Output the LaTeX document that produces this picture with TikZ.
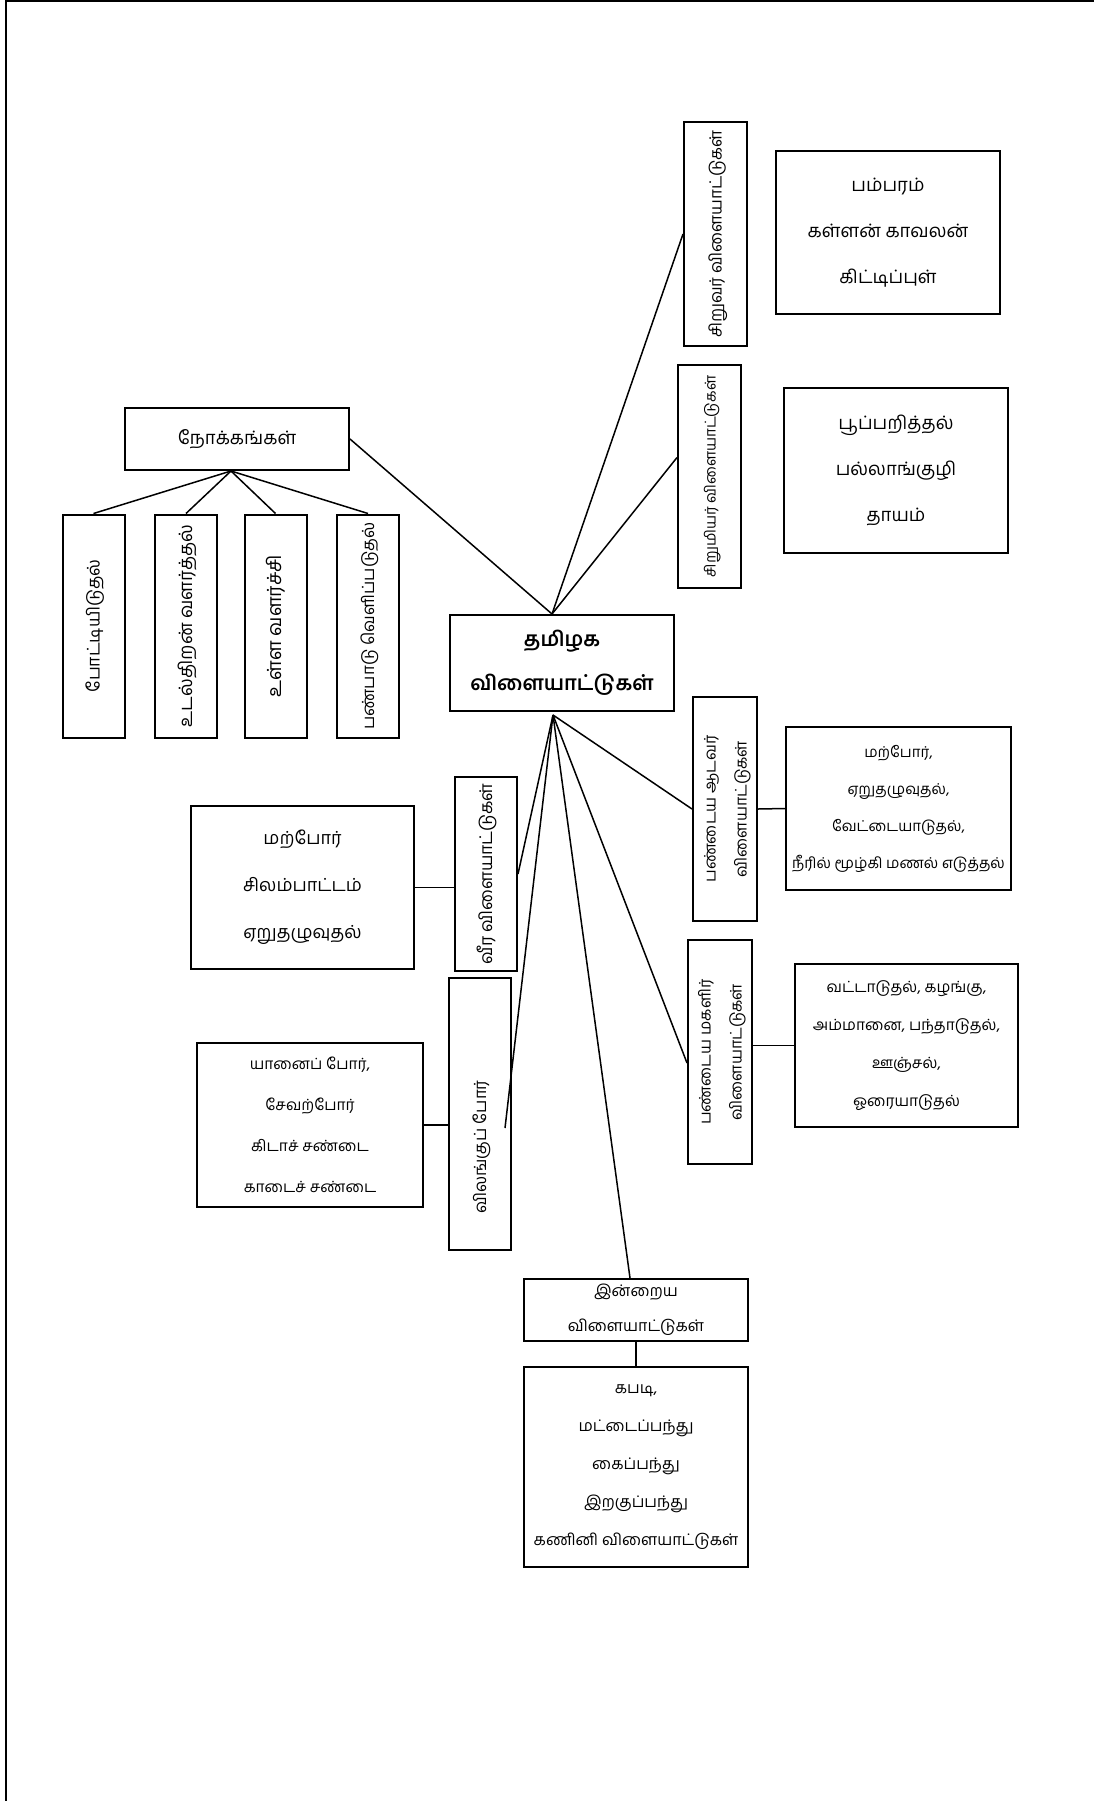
\documentclass[tikz,border=0pt]{standalone}
\usepackage{fontspec}
\setmainfont[Script=Tamil]{Hind Madurai}
\usetikzlibrary{positioning}
\newcommand*{\vtext}[1]{\rotatebox{90}{\begin{tabular}{@{}c@{}}#1\end{tabular}}}
\tikzstyle{box} = [draw, rectangle, line width=2pt, inner sep=0pt, align=center, font=\fontsize{18.5}{46}\selectfont]
\tikzstyle{listbox} = [box, minimum width=224pt, minimum height=163pt]
\tikzstyle{upbox} = [box, minimum width=63pt, minimum height=224pt, font=\fontsize{16.8}{31}\selectfont]
\tikzstyle{twoline} = [font=\fontsize{16}{31}\selectfont]
\tikzstyle{tight} = [font=\fontsize{15}{37}\selectfont]
\tikzstyle{link} = [line width=1.5pt]
\tikzstyle{frame} = [line width=2pt]

\begin{document}
\begin{tikzpicture}[x=1pt, y=-1pt]
    \useasboundingbox (0,0) rectangle (1094,1801);
    \draw [frame] (6,1801) -- (6,1) -- (1094,1);

    \node (centre) [box, minimum width=224pt, minimum height=96pt, font=\bfseries\fontsize{20.5}{44}\selectfont] at (562,663) {தமிழக\\விளையாட்டுகள்};
    \coordinate (hub top) at ([xshift=-10pt]centre.north);
    \coordinate (hub bottom) at ([xshift=-9pt, yshift=-3pt]centre.south);

    % Children.
    \node (boys) [upbox] at (715.5,234) {\vtext{சிறுவர் விளையாட்டுகள்}};
    \node (boys list) [listbox] at (888,232.5) {பம்பரம்\\கள்ளன் காவலன்\\கிட்டிப்புள்};
    \node (girls) [upbox, minimum height=223pt, font=\fontsize{15}{31}\selectfont] at (709.5,476.5) {\vtext{சிறுமியர் விளையாட்டுகள்}};
    \node (girls list) [listbox, minimum height=165pt] at (896,470.5) {பூப்பறித்தல்\\பல்லாங்குழி\\தாயம்};

    % Aims.
    \node (aims) [box, minimum width=224pt, minimum height=62pt] at (237,439) {நோக்கங்கள்};
    \foreach \i/\x/\s/\txt in {1/93.5/17.5/போட்டியிடுதல், 2/186/18.5/உடல்திறன் வளர்த்தல், 3/275.5/19.5/உள்ள வளர்ச்சி, 4/368/16.8/பண்பாடு வெளிப்படுதல்} {%
        \node (aim \i) [upbox, minimum width=62pt, minimum height=223pt, font=\fontsize{\s}{31}\selectfont] at (\x,626) {\vtext{\txt}};
        \draw [link] ([xshift=-6pt]aims.south) -- (aim \i.north);
    }

    % Old games.
    \node (veera) [upbox, minimum width=62pt, minimum height=194pt, font=\fontsize{17.5}{31}\selectfont] at (486,874) {\vtext{வீர விளையாட்டுகள்}};
    \node (veera list) [listbox, minimum width=223pt, font=\fontsize{18}{47}\selectfont] at (302.5,887.5) {மற்போர்\\சிலம்பாட்டம்\\ஏறுதழுவுதல்};
    \node (animals) [upbox, minimum width=62pt, minimum height=272pt] at (480,1114) {\vtext{விலங்குப் போர்\hspace*{66pt}}};
    \node (beasts) [listbox, minimum width=226pt, minimum height=164pt, font=\fontsize{15.5}{41}\selectfont] at (310,1125) {யானைப் போர்,\\சேவற்போர்\\கிடாச் சண்டை\\காடைச் சண்டை};
    \coordinate (animals end) at ([xshift=25pt, yshift=-14pt]animals.center);
    \node (men) [upbox, twoline, minimum width=64pt] at (725,809) {\vtext{பண்டைய ஆடவர்\\விளையாட்டுகள்}};
    \node (men list) [listbox, tight, minimum width=225pt] at (898.5,808.5) {மற்போர்,\\ஏறுதழுவுதல்,\\வேட்டையாடுதல்,\\நீரில் மூழ்கி மணல் எடுத்தல்};
    \node (women) [upbox, twoline, minimum width=64pt] at (720,1052) {\vtext{பண்டைய மகளிர்\\விளையாட்டுகள்}};
    \node (women list) [listbox, tight, minimum width=223pt, font=\fontsize{15.5}{38}\selectfont] at (906.5,1045.5) {வட்டாடுதல், கழங்கு,\\அம்மானை, பந்தாடுதல்,\\ஊஞ்சல்,\\ஓரையாடுதல்};

    % Today.
    \node (today) [box, minimum width=224pt, minimum height=62pt, font=\fontsize{16}{35}\selectfont] at (636,1310) {இன்றைய\\விளையாட்டுகள்};
    \node (today list) [box, minimum width=224pt, minimum height=200pt, below=24pt of today, font=\fontsize{16}{38}\selectfont] {கபடி,\\மட்டைப்பந்து\\கைப்பந்து\\இறகுப்பந்து\\கணினி விளையாட்டுகள்};

    % Links.
    \draw [link] (hub top) -- (boys.west);
    \draw [link] (hub top) -- ([yshift=19pt]girls.west);
    \draw [link] (hub top) -- (aims.east);
    \draw [link] (hub bottom) -- (men.west);
    \draw [link] (hub bottom) -- ([yshift=-11pt]women.west);
    \draw [link] (hub bottom) -- (veera.east);
    \draw [link] (hub bottom) -- (animals end);
    \draw [link] (hub bottom) -- ([xshift=-6pt]today.north);
    \draw [link] (veera list.east) -- (veera list.east -| veera.west);
    \draw [link] (beasts.east) -- (beasts.east -| animals.west);
    \draw [link] (men.east) -- (men list.west);
    \draw [link] (women list.west -| women.east) -- (women list.west);
    \draw [link] (today.south) -- (today list.north);
\end{tikzpicture}
\end{document}
